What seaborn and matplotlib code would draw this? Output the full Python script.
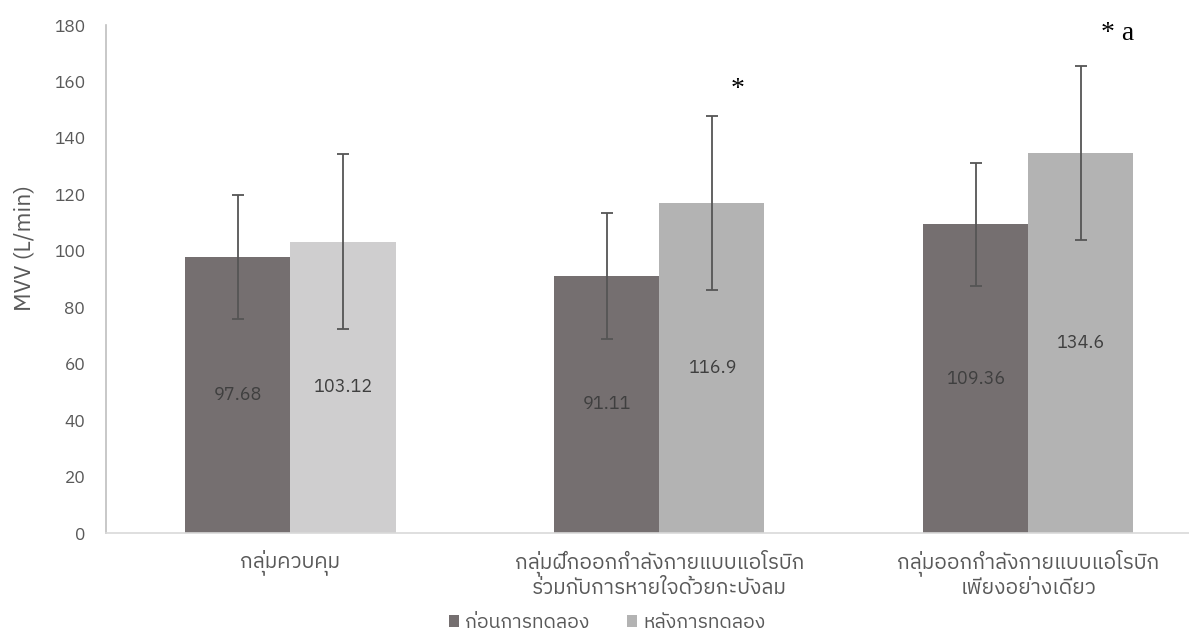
import matplotlib
matplotlib.use("Agg")
import matplotlib.pyplot as plt
from matplotlib import font_manager
from matplotlib.ft2font import FT2Font
import seaborn as sns
import pandas as pd

# ---- data -------------------------------------------------------------
groups = [
    "กลุ่มควบคุม",
    "กลุ่มฝึกออกกำลังกายแบบแอโรบิก\nร่วมกับการหายใจด้วยกะบังลม",
    "กลุ่มออกกำลังกายแบบแอโรบิก\nเพียงอย่างเดียว",
]
phases = ["ก่อนการทดลอง", "หลังการทดลอง"]
before_mean = [97.68, 91.11, 109.36]
after_mean = [103.12, 116.9, 134.6]
before_sd = [22.0, 22.2, 21.7]
after_sd = [31.0, 30.8, 30.9]
marks = ["", "*", "* a"]          # significance marks above the post-test bars
y_ticks = [0, 20, 40, 60, 80, 100, 120, 140, 160, 180]
y_label = "MVV (L/min)"

# ---- fonts: pick a family that can draw Thai ---------------------------
def thai_family():
    found = []
    for fe in font_manager.fontManager.ttflist:
        try:
            if 0x0E01 in FT2Font(fe.fname).get_charmap():
                found.append(fe.name)
        except Exception:
            pass
    if not found:
        return None
    for pref in ("Sans Thai", "Thai", "Sans"):
        for n in found:
            if pref in n:
                return n
    return found[0]

sns.set_theme(style="white")
fam = thai_family()
plt.rcParams["font.family"] = ([fam] if fam else []) + ["DejaVu Sans"]

dark = "#756f70"
light = "#b3b3b3"
light_first = "#cfcecf"
txt = "#595959"

df = pd.DataFrame({
    "group": groups * 2,
    "phase": [phases[0]] * 3 + [phases[1]] * 3,
    "mvv": before_mean + after_mean,
})

W, H = 1189, 635
fig = plt.figure(figsize=(W / 100, H / 100), dpi=100)
ax = fig.add_axes([106 / W, (H - 533) / H, 1106.5 / W, 508 / H])

sns.barplot(data=df, x="group", y="mvv", hue="phase", order=groups,
            hue_order=phases, palette=[dark, light], width=0.57, gap=0,
            errorbar=None, saturation=1, ax=ax, legend=False)

bar_sets = list(ax.containers[:2])
bar_sets[1][0].set_facecolor(light_first)

sds = [before_sd, after_sd]
means = [before_mean, after_mean]
for k, cont in enumerate(bar_sets):
    for i, bar in enumerate(cont):
        bar.set_edgecolor("none")
        cx = bar.get_x() + bar.get_width() / 2
        ax.errorbar(cx, means[k][i], yerr=sds[k][i], fmt="none",
                    ecolor="#555555", elinewidth=1.3, capsize=4.5,
                    capthick=1.3, zorder=5)
        ax.text(cx, means[k][i] / 2, f"{means[k][i]:g}", ha="center",
                va="center", fontsize=13, color="#3f3f3f", zorder=6)
        if k == 1 and marks[i]:
            single = marks[i] == "*"
            off = 0.07 if single else 0.1
            lift = 9.5 if single else 11.5
            ax.text(cx + off, means[k][i] + sds[k][i] + lift, marks[i],
                    ha="center", va="center", fontsize=20,
                    family="Liberation Serif", color="black")

ax.set_xlim(-0.5, 2.5)
ax.set_ylim(0, 180)
ax.set_yticks(y_ticks)
ax.set_yticklabels([str(t) for t in y_ticks])
ax.tick_params(axis="y", length=0, pad=15, labelsize=12.5, labelcolor=txt)
ax.tick_params(axis="x", length=0, pad=12, labelsize=15, labelcolor=txt)
ax.set_xlabel("")
ax.set_ylabel("")
for s in ("top", "right"):
    ax.spines[s].set_visible(False)
ax.spines["left"].set_color("#bfbfbf")
ax.spines["bottom"].set_color("#d9d9d9")
ax.spines["left"].set_linewidth(1.2)
ax.spines["bottom"].set_linewidth(1.2)

fig.text(24 / W, 1 - 248 / H, y_label, rotation=90, ha="center",
         va="center", fontsize=16.5, color=txt)

handles = [bar_sets[0][0], bar_sets[1][1]]
ax.legend(handles, phases, loc="center", ncol=2, frameon=False,
          bbox_to_anchor=(607 / W, 1 - 623 / H), bbox_transform=fig.transFigure,
          handlelength=0.55, handleheight=0.55, handletextpad=0.3,
          columnspacing=1.9, fontsize=14, labelcolor=txt)

fig.savefig("out.png", dpi=100)
